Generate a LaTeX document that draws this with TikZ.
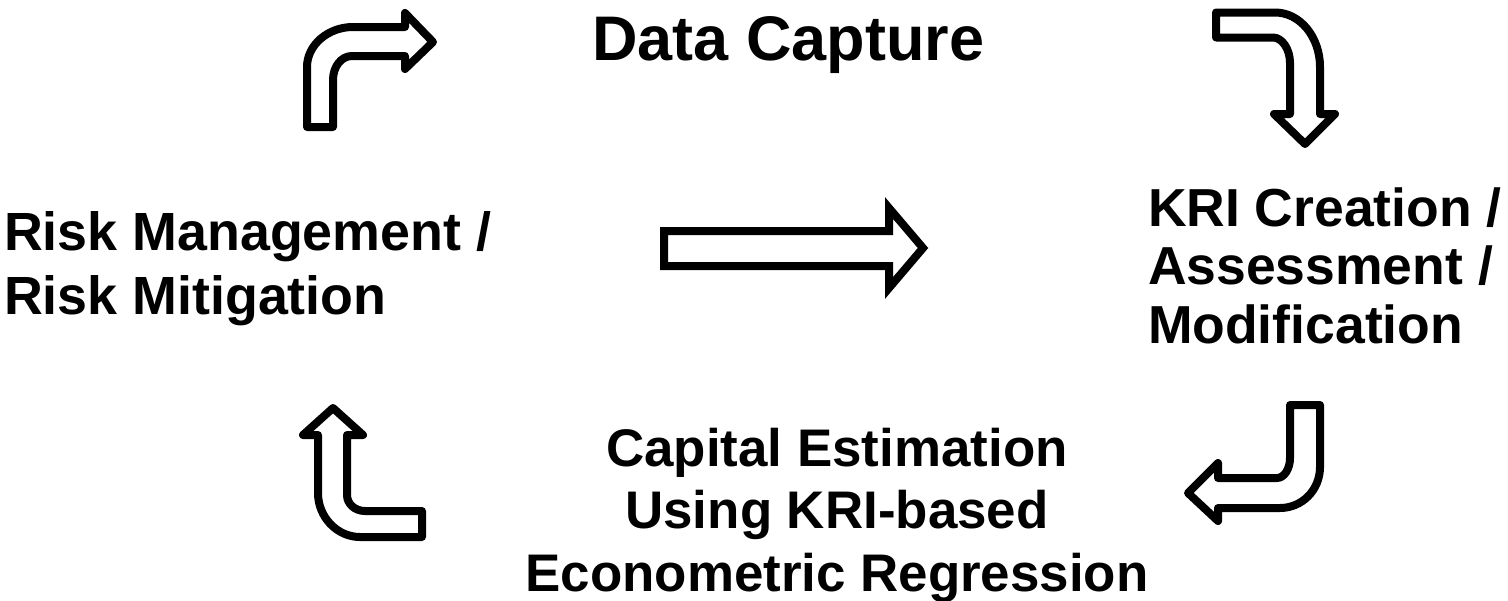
\documentclass[tikz,border=0pt]{standalone}
\usepackage{fontspec}
\setmainfont{Liberation Sans}
\begin{document}
\begin{tikzpicture}[x=0.5pt,y=-0.5pt,
  bentarrow/.style={draw=black,fill=white,line width=4pt,line join=round},
  blockarrow/.style={draw=black,fill=white,line width=4pt,line join=miter},
  label/.style={inner sep=0pt,outer sep=0pt}]
\fill[white] (0,0) rectangle (1508,600);
\path[use as bounding box] (0,0) rectangle (1508,600);

% bent arrow: up then right (top left)
\draw[bentarrow] (307,127) -- (307,67) .. controls (307,45) and (328,27) .. (353,27)
  -- (405,27) -- (405,13) -- (433,42) -- (405,69) -- (405,56) -- (352,56)
  .. controls (341,56) and (333,67) .. (333,80) -- (333,127) -- cycle;

% bent arrow: right then down (top right)
\draw[bentarrow] (1216,12.5) -- (1275,12.5) .. controls (1300,12.5) and (1320,37) .. (1320,67)
  -- (1320,114) -- (1335,114) -- (1305,144) -- (1274,114) -- (1290,114) -- (1290,63)
  .. controls (1290,49) and (1282,37.5) .. (1273,37.5) -- (1216,37.5) -- cycle;

% bent arrow: down then left (bottom right)
\draw[bentarrow] (1290,405) -- (1320,405) -- (1320,467) .. controls (1320,490) and (1302,508) .. (1280,508)
  -- (1218,508) -- (1218,521) -- (1188,493) -- (1218,463) -- (1218,478) -- (1277,478)
  .. controls (1284,478) and (1290,469) .. (1290,458) -- cycle;

% bent arrow: left then up (bottom left)
\draw[bentarrow] (422,511) -- (422,537) -- (360,537) .. controls (337,537) and (318,517) .. (318,493)
  -- (318,435) -- (303,435) -- (333,408) -- (363,435) -- (347,435) -- (347,495)
  .. controls (347,504) and (355,511) .. (365,511) -- cycle;

% straight block arrow
\draw[blockarrow] (664,231) -- (889,231) -- (889,208) -- (923,248) -- (889,288) -- (889,266) -- (664,266) -- cycle;

% texts
\node[label,anchor=base,font=\bfseries\fontsize{31.5}{38}\selectfont] (dc) at (788.5,60)
  {Data Capture};

\node[label,anchor=base west,font=\bfseries\fontsize{26.9}{32}\selectfont] (rm) at (4,250)
  {\begin{tabular}[t]{@{}l@{}}Risk Management /\\Risk Mitigation\end{tabular}};

\node[label,anchor=base west,font=\bfseries\fontsize{26.75}{29.25}\selectfont] (kri) at (1148,226)
  {\begin{tabular}[t]{@{}l@{}}KRI Creation /\\Assessment /\\Modification\end{tabular}};

\node[label,anchor=base,font=\bfseries\fontsize{26.45}{31.25}\selectfont] (ce) at (837,466)
  {\begin{tabular}[t]{@{}c@{}}Capital Estimation\\Using KRI-based\\Econometric Regression\end{tabular}};
\end{tikzpicture}
\end{document}
